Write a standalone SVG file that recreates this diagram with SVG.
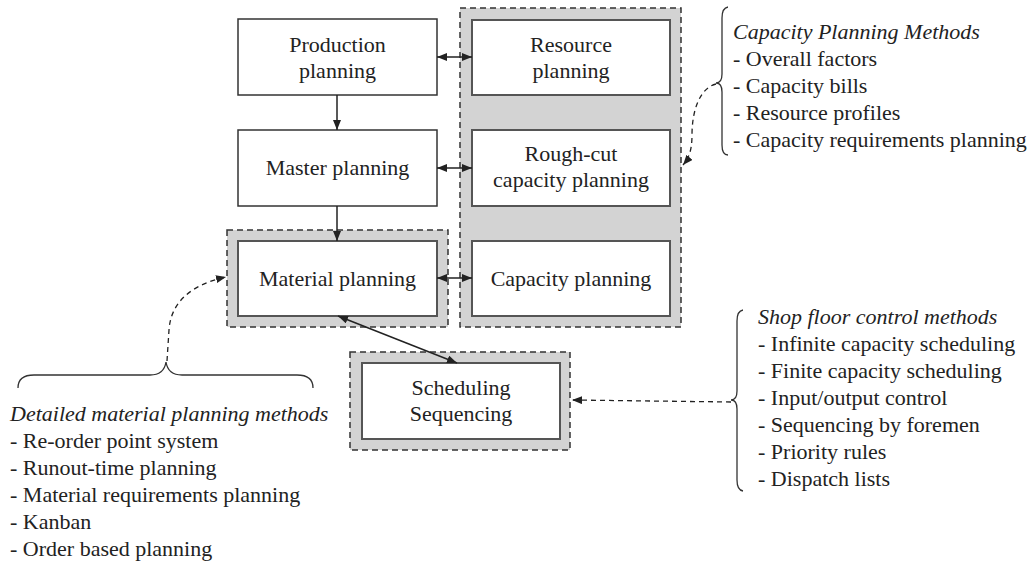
<svg xmlns="http://www.w3.org/2000/svg" width="1035" height="564" viewBox="0 0 1035 564">
<style>
  text { font-family: "Liberation Serif", "Times New Roman", serif; font-size: 22px; fill: #222; }
  .c { text-anchor: middle; }
  .it { font-style: italic; }
  .box { fill: #fff; stroke: #333; stroke-width: 1.5; }
  .ibox { fill: #fff; stroke: #555; stroke-width: 2; }
  .grp { fill: #d3d3d3; stroke: #333; stroke-width: 1.5; stroke-dasharray: 6 4; }
  .ln { fill: none; stroke: #222; stroke-width: 1.5; }
  .dl { fill: none; stroke: #222; stroke-width: 1.3; stroke-dasharray: 5 4; }
  .br { fill: none; stroke: #333; stroke-width: 1.3; }
</style>
<defs>
  <marker id="ah" viewBox="0 0 10 8" refX="10" refY="4" markerWidth="10" markerHeight="8" markerUnits="userSpaceOnUse" orient="auto-start-reverse">
    <path d="M0,0 L10,4 L0,8 z" fill="#222"/>
  </marker>
</defs>
<rect width="1035" height="564" fill="#fff"/>

<g id="capacity-group">
  <rect class="grp" x="460" y="8" width="221" height="319"/>
</g>
<g id="production-planning">
  <rect class="box" x="238" y="19" width="199" height="76"/>
  <text class="c" x="337.5" y="52">Production</text>
  <text class="c" x="337.5" y="78">planning</text>
</g>
<g id="master-planning">
  <rect class="box" x="238" y="130" width="199" height="76"/>
  <text class="c" x="337.5" y="175">Master planning</text>
</g>
<g id="material-planning">
  <rect class="grp" x="227" y="230" width="221" height="97"/>
  <rect class="ibox" x="238" y="241" width="199" height="75"/>
  <text class="c" x="337.5" y="286">Material planning</text>
</g>
<g id="resource-planning">
  <rect class="ibox" x="472" y="20" width="198" height="75"/>
  <text class="c" x="571" y="52">Resource</text>
  <text class="c" x="571" y="78">planning</text>
</g>
<g id="rough-cut-capacity-planning">
  <rect class="ibox" x="472" y="130" width="198" height="76"/>
  <text class="c" x="571" y="161">Rough-cut</text>
  <text class="c" x="571" y="187">capacity planning</text>
</g>
<g id="capacity-planning">
  <rect class="ibox" x="472" y="241" width="198" height="75"/>
  <text class="c" x="571" y="286">Capacity planning</text>
</g>
<g id="scheduling-sequencing">
  <rect class="grp" x="350" y="352" width="220" height="98"/>
  <rect class="ibox" x="362" y="363" width="198" height="76"/>
  <text class="c" x="461" y="395">Scheduling</text>
  <text class="c" x="461" y="421">Sequencing</text>
</g>

<g id="capacity-planning-methods">
  <path class="br" d="M728 7 Q722 8 722 18 L722 74 Q722 83 716 83 Q722 83 722 92 L722 145 Q722 155 728 155"/>
  <text class="it" x="733" y="39">Capacity Planning Methods</text>
  <text x="733" y="66">- Overall factors</text>
  <text x="733" y="93">- Capacity bills</text>
  <text x="733" y="120">- Resource profiles</text>
  <text x="733" y="147">- Capacity requirements planning</text>
</g>
<g id="shop-floor-control-methods">
  <path class="br" d="M743 310 Q737 311 737 321 L737 391 Q737 400 731 400 Q737 400 737 409 L737 480 Q737 490 743 491"/>
  <text class="it" x="758" y="324">Shop floor control methods</text>
  <text x="758" y="351">- Infinite capacity scheduling</text>
  <text x="758" y="378">- Finite capacity scheduling</text>
  <text x="758" y="405">- Input/output control</text>
  <text x="758" y="432">- Sequencing by foremen</text>
  <text x="758" y="459">- Priority rules</text>
  <text x="758" y="486">- Dispatch lists</text>
</g>
<g id="detailed-material-planning-methods">
  <path class="br" d="M18 388 Q18 375 34 375 L150 375 Q164 375 166 362 Q168 375 182 375 L297 375 Q313 375 313 388"/>
  <text class="it" x="10" y="421">Detailed material planning methods</text>
  <text x="10" y="448">- Re-order point system</text>
  <text x="10" y="475">- Runout-time planning</text>
  <text x="10" y="502">- Material requirements planning</text>
  <text x="10" y="529">- Kanban</text>
  <text x="10" y="556">- Order based planning</text>
</g>

<g id="connectors">
  <line class="ln" x1="337" y1="95" x2="337" y2="130" marker-end="url(#ah)"/>
  <line class="ln" x1="337" y1="206" x2="337" y2="241" marker-end="url(#ah)"/>
  <line class="ln" x1="437" y1="57" x2="472" y2="57" marker-start="url(#ah)" marker-end="url(#ah)"/>
  <line class="ln" x1="437" y1="168" x2="472" y2="168" marker-start="url(#ah)" marker-end="url(#ah)"/>
  <line class="ln" x1="437" y1="278" x2="472" y2="278" marker-start="url(#ah)" marker-end="url(#ah)"/>
  <line class="ln" x1="338" y1="316" x2="457" y2="363" marker-start="url(#ah)" marker-end="url(#ah)"/>
  <path class="dl" d="M716 84 C700 88 692 110 692 135 C692 150 689 158 683 165" marker-end="url(#ah)"/>
  <path class="dl" d="M731 402 L572 400" marker-end="url(#ah)"/>
  <path class="dl" d="M167 361 L169 330 C171 300 194 284 226 277" marker-end="url(#ah)"/>
</g>
</svg>
